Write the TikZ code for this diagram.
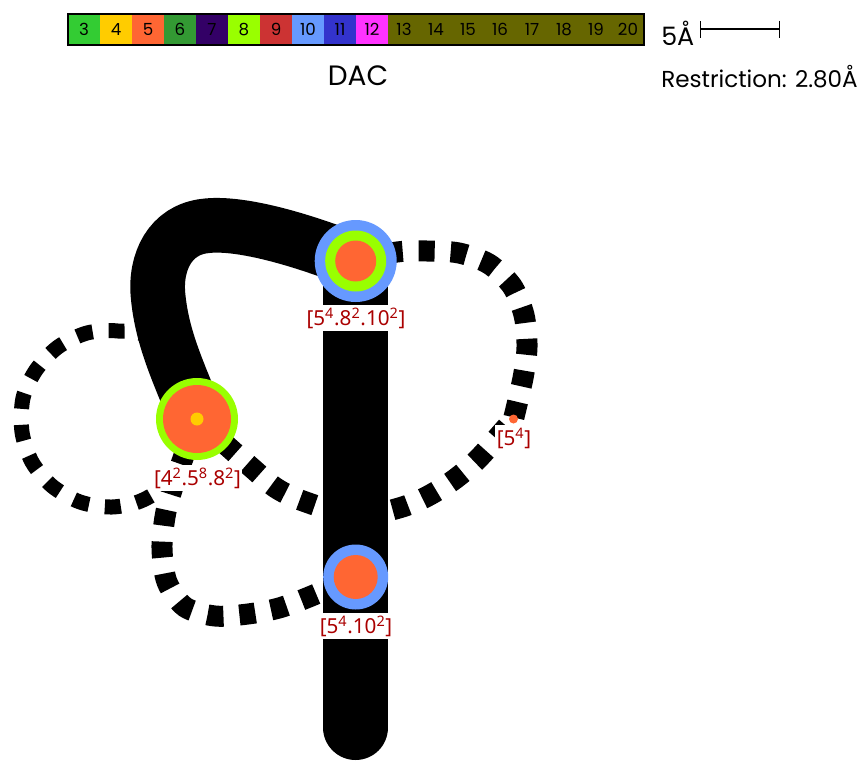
\documentclass[tikz,border=0pt]{standalone}
\usepackage{fontspec}
\setmainfont{Poppins}
\newfontfamily\labelfont{Noto Sans}
\usetikzlibrary{arrows.meta,fit,backgrounds}
\definecolor{ring3}{HTML}{33CC33}
\definecolor{ring4}{HTML}{FFCC00}
\definecolor{ring5}{HTML}{FF6633}
\definecolor{ring6}{HTML}{339933}
\definecolor{ring7}{HTML}{330066}
\definecolor{ring8}{HTML}{99FF00}
\definecolor{ring9}{HTML}{CC3333}
\definecolor{ring10}{HTML}{6699FF}
\definecolor{ring11}{HTML}{3333CC}
\definecolor{ring12}{HTML}{FF33FF}
\definecolor{ring13}{HTML}{666600}
\definecolor{labelred}{HTML}{AA0000}

\begin{document}
\begin{tikzpicture}[
  x=0.75pt, y=-0.75pt,
  cell/.style={minimum width=24pt, minimum height=22.5pt, inner sep=0pt,
    font=\fontsize{12.5}{14}\selectfont},
  disc/.style={circle, inner sep=0pt, minimum size=#1*0.75pt},
  vertexname/.style={fill=white, text=labelred, inner xsep=1pt, inner ysep=0pt, minimum height=20pt,
    font=\labelfont\fontsize{15.5}{18}\selectfont},
  tube/.style={line width=48.75pt, line cap=round},
  bigcurve/.style={line width=41pt},
  dashloop/.style={line width=15.75pt, dash pattern=on 12pt off 12pt},
  thinloop/.style={line width=11.25pt, dash pattern=on 12pt off 12pt},
]
\useasboundingbox (0,0) rectangle (863,760);

% ---- colour key --------------------------------------------------------
\foreach \n/\c [evaluate=\n as \x using 84+32*(\n-3)] in
  {3/ring3,4/ring4,5/ring5,6/ring6,7/ring7,8/ring8,9/ring9,10/ring10,11/ring11,
   12/ring12,13/ring13,14/ring13,15/ring13,16/ring13,17/ring13,18/ring13,
   19/ring13,20/ring13}
  \node[cell, fill=\c] (cell\n) at (\x, 29.5) {\n};
\node[draw, line width=1.3pt, inner sep=0pt, fit=(cell3)(cell20)] (key) {};

\node[font=\fontsize{21}{24}\selectfont] (title) at (358, 76) {DAC};
\node[font=\fontsize{19}{22}\selectfont, anchor=west, inner sep=0pt] (scalelabel) at (661, 33) {5Å};
\coordinate (scaleleft) at (700, 29);
\coordinate (scaleright) at (780, 29);
\draw[{Bar[width=12.75pt]}-{Bar[width=12.75pt]}, line width=0.9pt] (scaleleft) -- (scaleright);
\node[font=\fontsize{17.3}{20}\selectfont, anchor=west, inner sep=0pt] (restriction) at (661, 77)
  {Restriction: 2.80Å};

% ---- vertices ----------------------------------------------------------
\node[disc=82, fill=ring8]  (left)  at (197, 419) {};
\node[disc=68, fill=ring5]  at (left.center) {};
\node[disc=13, fill=ring4]  at (left.center) {};

\node[disc=82, fill=ring10] (top)   at (355.7, 261) {};
\node[disc=61, fill=ring8]  at (top.center) {};
\node[disc=41, fill=ring5]  at (top.center) {};

\node[disc=65, fill=ring10] (low)   at (355.7, 577) {};
\node[disc=44, fill=ring5]  at (low.center) {};

\node[disc=9, fill=ring5]   (right) at (513.5, 419) {};

\node[vertexname] (lefttext)  at (197.5, 478) {[4\textsuperscript{2}.5\textsuperscript{8}.8\textsuperscript{2}]};
\node[vertexname] (toptext)   at (356, 318)   {[5\textsuperscript{4}.8\textsuperscript{2}.10\textsuperscript{2}]};
\node[vertexname] (lowtext)   at (356, 626)   {[5\textsuperscript{4}.10\textsuperscript{2}]};
\node[vertexname] (righttext) at (514, 438)   {[5\textsuperscript{4}]};

\coordinate (tubeend) at (355.7, 727.5);

% ---- edges -------------------------------------------------------------
\begin{scope}[on background layer]
\draw[tube] (top.center) -- (tubeend);
\draw[bigcurve] (top.center) .. controls (290,235) and (235,222) .. (205,226)
  .. controls (170,230) and (155,262) .. (158,295)
  .. controls (162,340) and (180,375) .. (left.center);
\draw[dashloop] plot[smooth] coordinates {(top.center) (397,252) (427,251) (459,253)
  (489,264) (512,286) (524,315) (527,347) (523,378) (right.center)};
\draw[dashloop, dash phase=16.5pt] plot[smooth] coordinates {(right.center) (479,458) (455,479) (428,496)
  (399,508) (355,516) (303,501) (276,488) (252,468) (left.center)};
\draw[thinloop, dash phase=6pt] plot[smooth] coordinates {(left.center) (150,340) (118,331) (87,333)
  (58,347) (36,370) (23,398) (22,432) (32,462) (52,486) (80,502) (112,507) (143,500)
  (172,478) (left.center)};
\draw[dashloop] plot[smooth] coordinates {(left.center) (172,490) (165,517) (162,549)
  (167,582) (185,607) (215,616) (248,614) (279,608) (309,597) (low.center)};
\end{scope}

\end{tikzpicture}
\end{document}
